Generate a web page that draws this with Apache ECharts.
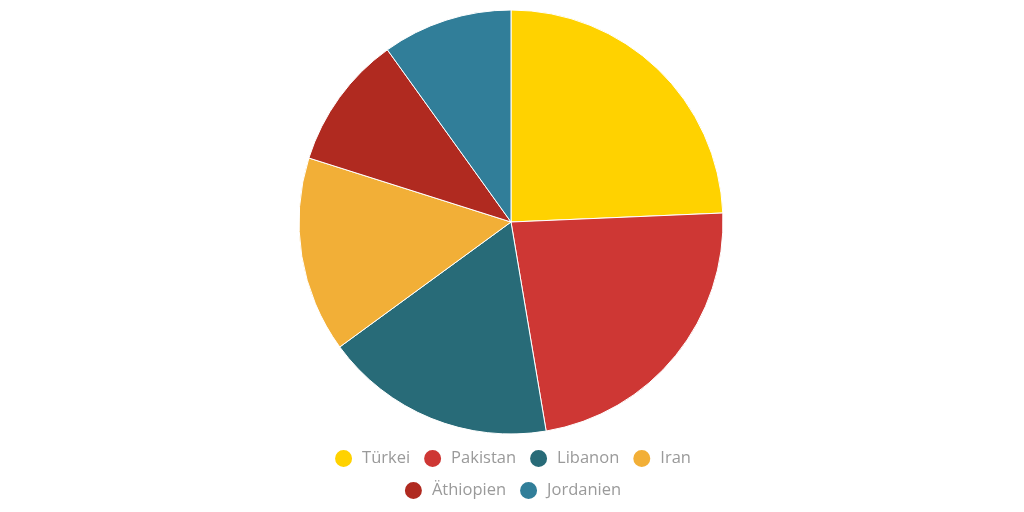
<!DOCTYPE html>
<html><head><meta charset="utf-8">
<script src="https://cdn.jsdelivr.net/npm/echarts@6/dist/echarts.min.js"></script>
<style>html,body{margin:0;padding:0;background:#fff}#c{width:1024px;height:512px}</style>
</head><body><div id="c"></div>
<script>
const categories = ["Türkei","Pakistan","Libanon","Iran","Äthiopien","Jordanien"];
const values = [24.3, 23.0, 17.6, 14.9, 10.2, 9.9];
const colors = ["#FFD200","#CE3734","#286B78","#F2AF37","#B02A20","#317E99"];
const legendRow1 = categories.slice(0,4);
const legendRow2 = categories.slice(4);
const chart = echarts.init(document.getElementById('c'));
const legendBase = {
  left: 'center',
  icon: 'circle',
  itemWidth: 19, itemHeight: 19, itemGap: 12,
  padding: 0,
  textStyle:{color:'#9a9a9a', fontSize:16.5, fontFamily:'Open Sans', padding:[0,0,0,4]}
};
chart.setOption({
  animation:false,
  color: colors,
  legend:[
    Object.assign({}, legendBase, {data: legendRow1, top: 448}),
    Object.assign({}, legendBase, {data: legendRow2, top: 480})
  ],
  series:[{
    type:'pie',
    center:[511,222],
    radius:[0,212],
    startAngle:90,
    clockwise:true,
    label:{show:false},
    labelLine:{show:false},
    itemStyle:{borderColor:'#fff', borderWidth:1},
    data: categories.map((n,i)=>({name:n, value:values[i]}))
  }]
});
</script></body></html>
